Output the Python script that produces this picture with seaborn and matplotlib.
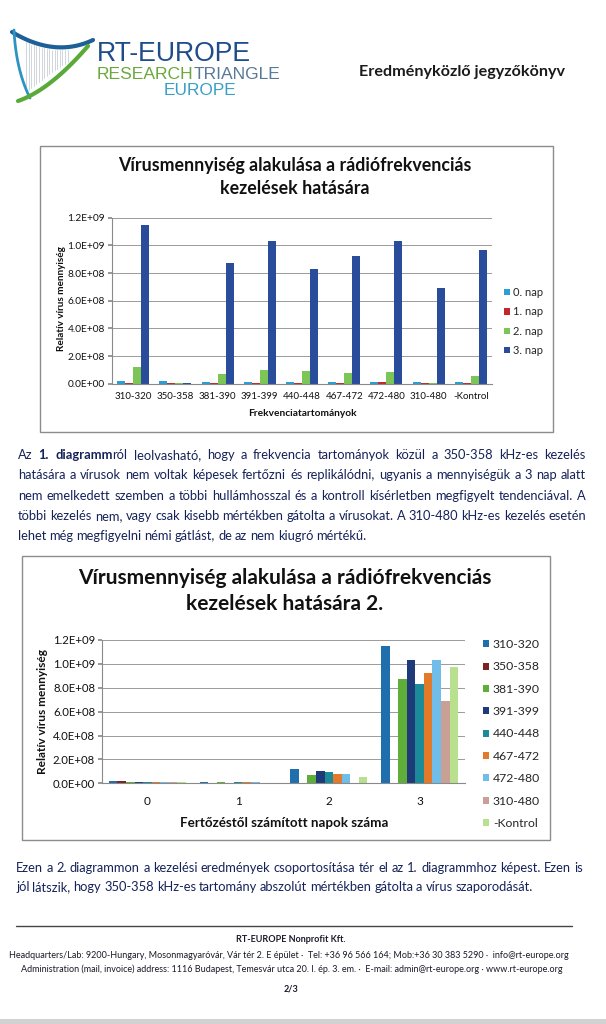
import numpy as np
import pandas as pd
import matplotlib
matplotlib.use("Agg")
import matplotlib.pyplot as plt
import seaborn as sns
from matplotlib.lines import Line2D
from matplotlib.patches import Rectangle
from matplotlib.ticker import FuncFormatter

# ---------------- data ----------------
freqs = ['310-320', '350-358', '381-390', '391-399', '440-448',
         '467-472', '472-480', '310-480', '-Kontrol']
day_labels = ['0. nap', '1. nap', '2. nap', '3. nap']
day_ticks = ['0', '1', '2', '3']
nap0 = [2.0e7, 2.0e7, 1.5e7, 1.1e7, 1.1e7, 1.3e7, 1.2e7, 1.0e7, 1.0e7]
nap1 = [8e6, 6e6, 7e6, 6e6, 7e6, 8e6, 1.0e7, 5e6, 6e6]
nap2 = [1.18e8, 3e6, 7.3e7, 1.02e8, 9.2e7, 7.9e7, 8.2e7, 6e6, 5.4e7]
nap3 = [1.15e9, 3e6, 8.7e8, 1.03e9, 8.3e8, 9.2e8, 1.03e9, 6.9e8, 9.7e8]
y_ticks = [0, 2e8, 4e8, 6e8, 8e8, 1.0e9, 1.2e9]

title1 = "Vírusmennyiség alakulása a rádiófrekvenciás\nkezelések hatására"
title2 = "Vírusmennyiség alakulása a rádiófrekvenciás\nkezelések hatására 2."
ylabel = "Relatív vírus mennyiség"
xlabel1 = "Frekvenciatartományok"
xlabel2 = "Fertőzéstől számított napok száma"

para1 = [
    "Az *1. diagramm*ról leolvasható, hogy a frekvencia tartományok közül a 350-358 kHz-es kezelés",
    "hatására a vírusok nem voltak képesek fertőzni és replikálódni, ugyanis a mennyiségük a 3 nap alatt",
    "nem emelkedett szemben a többi hullámhosszal és a kontroll kísérletben megfigyelt tendenciával. A",
    "többi kezelés nem, vagy csak kisebb mértékben gátolta a vírusokat. A 310-480 kHz-es kezelés esetén",
    "lehet még megfigyelni némi gátlást, de az nem kiugró mértékű.",
]
para2 = [
    "Ezen a 2. diagrammon a kezelési eredmények csoportosítása tér el az 1. diagrammhoz képest. Ezen is",
    "jól látszik, hogy 350-358 kHz-es tartomány abszolút mértékben gátolta a vírus szaporodását.",
]
footer = [
    "Headquarters/Lab: 9200-Hungary, Mosonmagyaróvár, Vár tér 2. E épület ·  Tel: +36 96 566 164; Mob:+36 30 383 5290 ·  info@rt-europe.org",
    "Administration (mail, invoice) address: 1116 Budapest, Temesvár utca 20. I. ép. 3. em. ·  E-mail: admin@rt-europe.org · www.rt-europe.org",
]

pal1 = ['#2b9fd3', '#c0282d', '#7cc657', '#2a4d9b']
pal2 = ['#1f6fae', '#7a2424', '#5fae3a', '#1e3a78', '#1b8a99',
        '#e27a2a', '#6fbde8', '#c9a096', '#b9e08f']

# ---------------- setup ----------------
sns.set_theme(style="white")
plt.rcParams['font.family'] = ['Lato', 'DejaVu Sans']

W, H = 606, 1024
fig = plt.figure(figsize=(W / 100, H / 100), dpi=100)
fig.patch.set_facecolor('white')


def fy(y):
    return 1 - y / H


def axes_px(l, t, r, b):
    return fig.add_axes([l / W, 1 - b / H, (r - l) / W, (b - t) / H])


def frame_px(l, t, r, b, color='#8c8c8c', lw=1.0):
    fig.add_artist(Rectangle((l / W, fy(b)), (r - l) / W, (b - t) / H,
                             transform=fig.transFigure, fill=False,
                             edgecolor=color, lw=lw))


sci = FuncFormatter(lambda v, p: f"{v:.1E}")

days_all = [nap0, nap1, nap2, nap3]
rows = []
for d, vals in zip(day_labels, days_all):
    for f, v in zip(freqs, vals):
        rows.append({'freq': f, 'day': d, 'value': v})
df = pd.DataFrame(rows)
df['tick'] = df['day'].map(dict(zip(day_labels, day_ticks)))

# ---------------- header / logo ----------------
def bez(p0, p1, p2, n=60):
    t = np.linspace(0, 1, n)[:, None]
    p0, p1, p2 = map(np.array, (p0, p1, p2))
    return (1 - t) ** 2 * p0 + 2 * (1 - t) * t * p1 + t ** 2 * p2


def draw_curve(pts, color, lw):
    fig.add_artist(Line2D(pts[:, 0] / W, 1 - pts[:, 1] / H,
                          transform=fig.transFigure, color=color, lw=lw,
                          solid_capstyle='round'))


top_c = bez((12, 32), (55, 58), (93, 40))
bot_line = bez((26, 92), (50, 72), (68, 62))
for x in np.arange(26, 68, 2.6):
    ty = np.interp(x, top_c[:, 0], top_c[:, 1]) + 3
    by = np.interp(x, bot_line[:, 0], bot_line[:, 1])
    draw_curve(np.array([[x, ty], [x, by]]), '#c6ced6', 0.6)
draw_curve(top_c, '#1d5f97', 3.0)
draw_curve(bez((14, 30), (16, 70), (30, 98)), '#2d93c2', 2.0)
draw_curve(bez((18, 101), (50, 90), (88, 46)), '#5aaa3a', 3.0)

LOGO_F = ['Liberation Sans', 'DejaVu Sans']
fig.text(97 / W, fy(61), "RT-EUROPE", fontsize=19.2, color='#1f4c8a',
         family=LOGO_F, va='baseline')
t_r = fig.text(97 / W, fy(79), "RESEARCH", fontsize=12.6, color='#6aa83c',
               family=LOGO_F, va='baseline')
r = fig.canvas.get_renderer()
wr = t_r.get_window_extent(r).width
fig.text((97 + wr) / W, fy(79), "TRIANGLE", fontsize=12.6, color='#587a98',
         family=LOGO_F, va='baseline')
fig.text(200 / W, fy(95), "EUROPE", fontsize=12.4, color='#3a9fc4',
         family=LOGO_F, va='baseline', ha='center')

fig.text(462 / W, fy(72), "Eredményközlő jegyzőkönyv", fontsize=11.6,
         fontweight='bold', color='#1a1a1a', ha='center', va='center')

# ---------------- chart 1 ----------------
frame_px(40, 146, 553, 432)
fig.text(295 / W, fy(177), title1, fontsize=12.8, fontweight='bold',
         ha='center', va='center', linespacing=1.5, color='#111111')

ax1 = axes_px(112, 217.7, 492, 383.7)
sns.barplot(data=df, x='freq', y='value', hue='day', palette=pal1,
            width=0.76, ax=ax1, saturation=1, linewidth=0, legend=True)
ax1.set_ylim(0, 1.2e9)
ax1.set_yticks(y_ticks)
ax1.yaxis.set_major_formatter(sci)
ax1.set_axisbelow(True)
ax1.yaxis.grid(True, color='#9a9a9a', lw=0.7)
for s in ['top', 'right']:
    ax1.spines[s].set_visible(False)
for s in ['left', 'bottom']:
    ax1.spines[s].set_color('#8a8a8a')
    ax1.spines[s].set_linewidth(0.8)
ax1.tick_params(axis='y', left=True, length=3, color='#8a8a8a',
                labelsize=7.3, pad=2, labelcolor='#111111')
ax1.tick_params(axis='x', bottom=False, length=0, labelsize=7.0, pad=6,
                labelcolor='#111111')
ax1.set_xlabel('')
ax1.set_ylabel('')
fig.text(62 / W, fy(299), ylabel, rotation=90, fontsize=7.2,
         fontweight='bold', ha='center', va='center', color='#111111')
fig.text(302 / W, fy(414), xlabel1, fontsize=7.3, fontweight='bold',
         ha='center', va='center', color='#111111')
h, l = ax1.get_legend_handles_labels()
ax1.legend(h, l, loc='upper left', bbox_to_anchor=(504 / W, fy(287)),
           bbox_transform=fig.transFigure, frameon=False, fontsize=8,
           handlelength=0.5, handleheight=0.5, handletextpad=0.3,
           labelspacing=0.75, borderpad=0, borderaxespad=0)

# ---------------- chart 2 ----------------
frame_px(22, 556, 550, 840)
fig.text(285 / W, fy(591), title2, fontsize=15, fontweight='bold',
         ha='center', va='center', linespacing=1.38, color='#111111')

ax2 = axes_px(102, 640, 465, 783.3)
sns.barplot(data=df, x='tick', y='value', hue='freq', palette=pal2,
            width=0.85, ax=ax2, saturation=1, linewidth=0, legend=True)
ax2.set_ylim(0, 1.2e9)
ax2.set_yticks(y_ticks)
ax2.yaxis.set_major_formatter(sci)
ax2.set_axisbelow(True)
ax2.yaxis.grid(True, color='#9a9a9a', lw=0.7)
for s in ['top', 'right']:
    ax2.spines[s].set_visible(False)
for s in ['left', 'bottom']:
    ax2.spines[s].set_color('#8a8a8a')
    ax2.spines[s].set_linewidth(0.8)
ax2.tick_params(axis='y', left=True, length=3, color='#8a8a8a',
                labelsize=8.2, pad=2, labelcolor='#111111')
ax2.tick_params(axis='x', bottom=False, length=0, labelsize=8.5, pad=9,
                labelcolor='#111111')
ax2.set_xlabel('')
ax2.set_ylabel('')
fig.text(43 / W, fy(711), ylabel, rotation=90, fontsize=8.6,
         fontweight='bold', ha='center', va='center', color='#111111')
fig.text(284 / W, fy(823), xlabel2, fontsize=9.6, fontweight='bold',
         ha='center', va='center', color='#111111')
h, l = ax2.get_legend_handles_labels()
ax2.legend(h, l, loc='upper left', bbox_to_anchor=(483 / W, fy(639)),
           bbox_transform=fig.transFigure, frameon=False, fontsize=8.8,
           handlelength=0.5, handleheight=0.5, handletextpad=0.3,
           labelspacing=0.93, borderpad=0, borderaxespad=0)

# ---------------- paragraphs ----------------
TEXT_C = '#15225a'


def parse_words(line):
    words = []
    bold = False
    for w in line.split(' '):
        segs = []
        for i, p in enumerate(w.split('*')):
            if i > 0:
                bold = not bold
            if p:
                segs.append((p, bold))
        words.append(segs)
    return words


def draw_line(line, x0, x1, y, size, color, justify):
    rr = fig.canvas.get_renderer()
    words = parse_words(line)
    objs, widths = [], []
    for segs in words:
        wo, ww = [], 0
        for s, b in segs:
            t = fig.text(0, 0, s, fontsize=size,
                         fontweight='bold' if b else 'normal',
                         color=color, va='baseline')
            w = t.get_window_extent(rr).width
            wo.append((t, w))
            ww += w
        objs.append(wo)
        widths.append(ww)
    space = size * 100 / 72 * 0.23
    if justify and len(words) > 1:
        space = (x1 - x0 - sum(widths)) / (len(words) - 1)
    x = x0
    for wo, ww in zip(objs, widths):
        xx = x
        for t, w in wo:
            t.set_position((xx / W, fy(y)))
            xx += w
        x += ww + space


PS = 9.3
p1_y = [459, 479, 500, 520, 540]
for i, (ln, yy) in enumerate(zip(para1, p1_y)):
    draw_line(ln, 18, 586, yy, PS, TEXT_C, i < len(para1) - 1)

p2_y = [872, 891]
for i, (ln, yy) in enumerate(zip(para2, p2_y)):
    draw_line(ln, 16, 583, yy, PS, TEXT_C, i < len(para2) - 1)

# ---------------- footer ----------------
fig.add_artist(Line2D([16 / W, 572 / W], [fy(926), fy(926)],
                      transform=fig.transFigure, color='#444444', lw=1.0))
FS = 6.5
fig.text(291 / W, fy(939), "RT-EUROPE Nonprofit Kft.", fontsize=FS,
         fontweight='bold', ha='center', va='center', color='#1a1a2a')
fig.text(289 / W, fy(955), footer[0], fontsize=FS, ha='center',
         va='center', color='#1a1a2a')
fig.text(292 / W, fy(969), footer[1], fontsize=FS, ha='center',
         va='center', color='#1a1a2a')
fig.text(291 / W, fy(989), "2/3", fontsize=FS, fontweight='bold',
         ha='center', va='center', color='#1a1a2a')
fig.add_artist(Rectangle((0, 0), 1, 5 / H, transform=fig.transFigure,
                         facecolor='#d2d2d2', edgecolor='none'))

fig.savefig("out.png", dpi=100)
